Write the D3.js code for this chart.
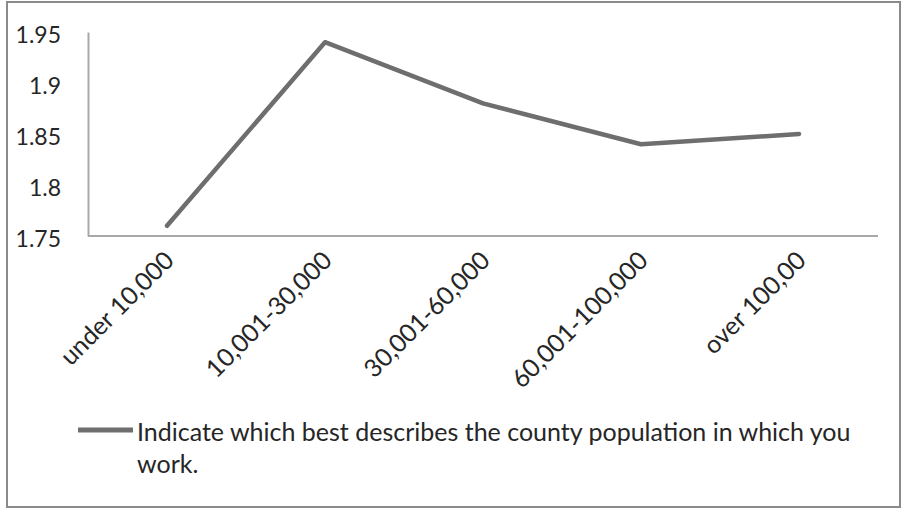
<!DOCTYPE html>
<html>
<head>
<meta charset="utf-8">
<script src="https://cdn.jsdelivr.net/npm/d3@7"></script>
<style>
  body { margin: 0; background: #fff; }
  text { font-family: Lato, "Open Sans", sans-serif; fill: #262626; }
</style>
</head>
<body>
<div id="canvas"></div>
<script>
(function(d3){

  // data
  var categories = ['under 10,000', '10,001-30,000', '30,001-60,000', '60,001-100,000', 'over 100,00'],
      values = [1.76, 1.94, 1.88, 1.84, 1.85],
      yTicks = [1.75, 1.8, 1.85, 1.9, 1.95],
      seriesName = 'Indicate which best describes the county population in which you work.';

  var canvas_d = {width: 906, height: 512},
      margin = {top: 32, right: 28, bottom: 276, left: 88},
      chart_d = {
        width: canvas_d.width - margin.left - margin.right,
        height: canvas_d.height - margin.top - margin.bottom
      },
      canvas,
      chart;

  canvas = d3.select('#canvas').append('svg')
      .attr('width', canvas_d.width)
      .attr('height', canvas_d.height);

  // outer frame
  canvas.append('rect')
      .attr('x', 7).attr('y', 2)
      .attr('width', 893).attr('height', 505)
      .attr('fill', '#fff')
      .attr('stroke', '#8a8a8a')
      .attr('stroke-width', 2);

  chart = canvas.append('g')
      .attr('transform', 'translate(' + margin.left + ',' + margin.top + ')');

  var x = d3.scalePoint()
      .domain(categories)
      .range([0, chart_d.width])
      .padding(0.5);

  var y = d3.scaleLinear()
      .domain([1.75, 1.95])
      .range([chart_d.height, 0]);

  /**
   * Axes
   */
  var yAxis = chart.append('g')
      .call(d3.axisLeft(y).tickValues(yTicks).tickSize(0).tickPadding(27)
        .tickFormat(function(d){ return String(+d.toFixed(2)); }));
  yAxis.select('.domain').attr('stroke', '#a8a8a8').attr('stroke-width', 2);
  yAxis.selectAll('text')
      .attr('font-size', 23)
      .attr('dy', '0.45em');

  var xAxis = chart.append('g')
      .attr('transform', 'translate(0,' + chart_d.height + ')')
      .call(d3.axisBottom(x).tickSize(0).tickPadding(0));
  xAxis.select('.domain').attr('stroke', '#a8a8a8').attr('stroke-width', 2)
      .attr('d', 'M0,0H' + chart_d.width);
  xAxis.selectAll('text')
      .attr('font-size', 25)
      .attr('text-anchor', 'end')
      .attr('dy', '0')
      .attr('transform', 'translate(8,26) rotate(-45)');

  /**
   * Series line
   */
  var line = d3.line()
      .x(function(d, i){ return x(categories[i]); })
      .y(function(d){ return y(d); });

  chart.append('path')
      .datum(values)
      .attr('d', line)
      .attr('fill', 'none')
      .attr('stroke', '#6e6e6e')
      .attr('stroke-width', 4.5)
      .attr('stroke-linejoin', 'round')
      .attr('stroke-linecap', 'round');

  /**
   * Legend
   */
  var legend = canvas.append('g').attr('transform', 'translate(78,430)');
  legend.append('line')
      .attr('x1', 0).attr('x2', 55)
      .attr('y1', 0).attr('y2', 0)
      .attr('stroke', '#6e6e6e')
      .attr('stroke-width', 5);

  var words = seriesName.split(' ');
  var legendText = legend.append('text')
      .attr('x', 59)
      .attr('y', 11)
      .attr('font-size', 25);
  legendText.append('tspan').attr('x', 59)
      .text(words.slice(0, words.length - 1).join(' '));
  legendText.append('tspan').attr('x', 59).attr('dy', 32)
      .text(words[words.length - 1]);

})(d3);
</script>
</body>
</html>
